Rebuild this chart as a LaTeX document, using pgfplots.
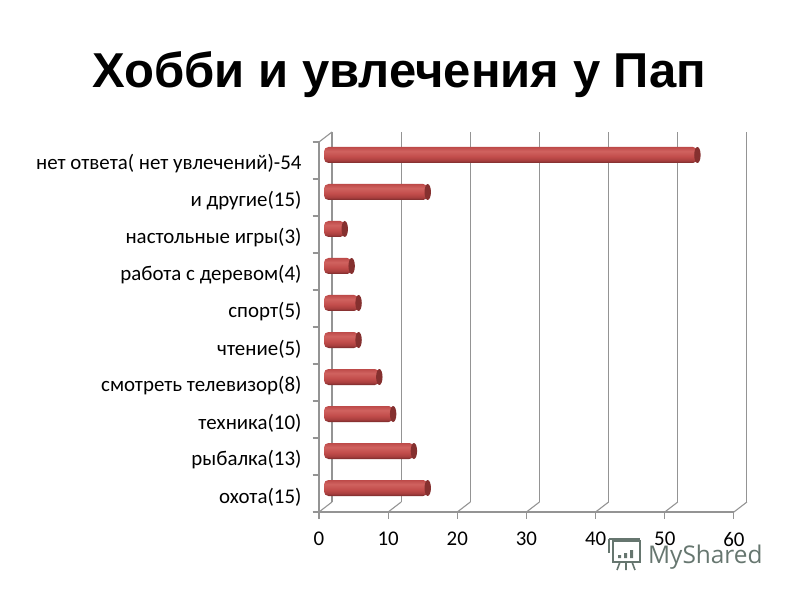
\documentclass[border=0pt]{standalone}
\usepackage{fontspec}
\setmainfont{Carlito}
\newfontfamily\titlefont{Liberation Sans}
\newfontfamily\wmfont{Open Sans}
\usepackage{pgfplots}
\pgfplotsset{compat=1.18}
\definecolor{gridgray}{HTML}{949494}
\definecolor{wm}{HTML}{66766F}
\definecolor{capdark}{HTML}{85302F}
\definecolor{c1}{HTML}{752A2B}
\definecolor{c2}{HTML}{A83E3E}
\definecolor{c3}{HTML}{C24D4B}
\definecolor{c4}{HTML}{D0625F}
\definecolor{c5}{HTML}{BD4A49}
\pgfdeclareverticalshading{cyl}{100bp}{
 color(0bp)=(c1);
 color(25bp)=(c1);
 color(33bp)=(c2);
 color(45bp)=(c3);
 color(62bp)=(c4);
 color(75bp)=(c5);
 color(100bp)=(c5)}
\pgfdeclareplotmark{capR}{%
 \pgfpathellipse{\pgfpointorigin}{\pgfqpoint{3.2pt}{0pt}}{\pgfqpoint{0pt}{8pt}}%
 \pgfusepathqfill}
\pgfplotsset{
  cylbar/.style={xbar,bar shift=0pt,bar width=16pt,draw=none,shading=cyl,rounded corners=4.5pt,shift={(5pt,5.5pt)},forget plot},
  cylcap/.style={only marks,mark=capR,mark options={draw=none,fill=capdark},shift={(5pt,5.5pt)},forget plot},
}
\begin{document}
\begin{tikzpicture}[x=1pt,y=1pt]
\path[use as bounding box] (0,0) rectangle (800,600);
\node[font=\titlefont\bfseries\fontsize{49}{50}\selectfont,text=black,anchor=center] at (399,525) {Хобби и увлечения у Пап};
\begin{axis}[
  at={(319pt,88pt)},anchor=south west,
  scale only axis,width=415pt,height=370pt,
  xmin=0,xmax=60.01,ymin=0.5,ymax=10.5,
  clip=false,
  axis lines=left,
  axis line style={draw=gridgray,line width=1.1pt,-},
  xtick={0,10,20,30,40,50,60},
  xmajorgrids,
  x grid style={draw=gridgray,line width=1.1pt,shift={(13pt,10pt)}},
  ytick={1,...,10},
  yticklabels={охота(15),рыбалка(13),техника(10),смотреть телевизор(8),чтение(5),спорт(5),работа с деревом(4),настольные игры(3),и другие(15),нет ответа( нет увлечений)-54},
  minor ytick={0.5,1.5,...,10.5},
  major tick length=6.5pt,
  minor tick length=6.5pt,
  tick align=outside,
  major y tick style={draw=none},
  minor y tick style={draw=gridgray,line width=1.1pt},
  major x tick style={draw=gridgray,line width=1.1pt},
  tick label style={font=\fontsize{20.9}{22}\selectfont,text=black},
  /pgf/number format/assume math mode=true,
  yticklabel style={xshift=-7.5pt,yshift=-3.5pt},
  xticklabel style={yshift=-10pt},
]
\pgfplotsinvokeforeach{0,10,20,30,40,50,60}{
  \draw[gridgray,line width=1.1pt] (axis cs:#1,0.5) -- ++(13pt,10pt);
}
\draw[gridgray,line width=1.1pt] (axis cs:0,10.5) -- ++(13pt,10pt);
\addplot[cylbar] coordinates {(15,1)};
\addplot[cylbar] coordinates {(13,2)};
\addplot[cylbar] coordinates {(10,3)};
\addplot[cylbar] coordinates {(8,4)};
\addplot[cylbar] coordinates {(5,5)};
\addplot[cylbar] coordinates {(5,6)};
\addplot[cylbar] coordinates {(4,7)};
\addplot[cylbar] coordinates {(3,8)};
\addplot[cylbar] coordinates {(15,9)};
\addplot[cylbar] coordinates {(54,10)};
\addplot[cylcap] coordinates {(15,1) (13,2) (10,3) (8,4) (5,5) (5,6) (4,7) (3,8) (15,9) (54,10)};
\end{axis}
% watermark
\node[font=\wmfont\fontsize{24.4}{26}\selectfont,text=wm,anchor=base west,inner sep=0pt] at (648,37) {MyShared};
\begin{scope}[wm,line width=1.6pt]
\draw (613,59) rectangle (640,38);
\draw (609,61) -- (640,61) (609,61) -- (609,47);
\fill (618,42) rectangle (621,45) (624,42) rectangle (627,47) (630,42) rectangle (633,50);
\draw (620,38) -- (617,30) (626,38) -- (626,30) (632,38) -- (635,30);
\end{scope}
\end{tikzpicture}
\end{document}
